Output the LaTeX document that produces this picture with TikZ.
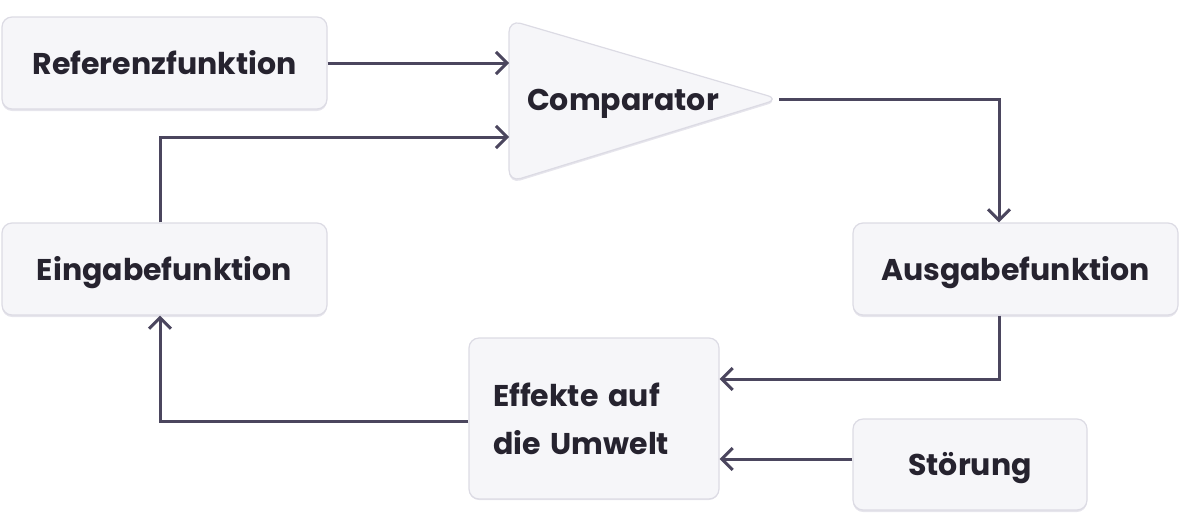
\documentclass[tikz,border=0pt]{standalone}
\usepackage{fontspec}
\setmainfont{Poppins}
\usetikzlibrary{arrows.meta}
\definecolor{boxfill}{HTML}{F6F6F9}
\definecolor{boxline}{HTML}{DCDBE4}
\definecolor{shadowc}{HTML}{E6E5EC}
\definecolor{linec}{HTML}{4B465E}
\definecolor{textc}{HTML}{26232F}
\tikzset{
  lbl/.style={text=textc, font=\fontsize{30}{48}\selectfont\bfseries},
  oneline/.style={text height=25pt, text depth=3pt},
  box/.style={lbl, draw=boxline, line width=1.2pt, fill=boxfill, rounded corners=10pt, inner sep=0pt},
  conn/.style={draw=linec, line width=3pt, -{Straight Barb[length=11pt,width=22pt,line width=3pt]}},
}
\begin{document}
\begin{tikzpicture}[x=1pt,y=-1pt]
\useasboundingbox (0,0) rectangle (1180,512);
% shadows
\foreach \a/\b/\c/\d in {2/17/327/109, 2/223/327/315, 853/223/1178/315, 469/337/719/498, 853/419/1087/510}{
  \fill[shadowc, rounded corners=10pt] (\a,\b+2) rectangle (\c,\d+2);
}
\node[box, oneline, minimum width=325pt, minimum height=92pt] (ref) at (164.5,63) {Referenzfunktion};
\node[box, oneline, minimum width=325pt, minimum height=92pt] (ein) at (164.5,269) {Eingabefunktion};
\node[box, oneline, minimum width=325pt, minimum height=92pt] (aus) at (1015.5,269) {Ausgabefunktion};
\node[box, minimum width=250pt, minimum height=161pt, align=left, text width=202pt] (eff) at (594,418.5) {Effekte auf\\die Umwelt};
\node[box, oneline, minimum width=234pt, minimum height=91pt] (stoe) at (970,464.5) {Störung};
% comparator
\fill[shadowc, rounded corners=12pt] (509,22) -- (779,101) -- (509,184) -- cycle;
\draw[draw=boxline, line width=1.2pt, fill=boxfill, rounded corners=12pt] (509,20) -- (779,99) -- (509,182) -- cycle;
\node[lbl, oneline] (comp) at (623,99) {Comparator};
\coordinate (compA) at (509,63);
\coordinate (compB) at (509,137);
\coordinate (compT) at (779,99);
% connectors
\draw[conn] (ref.east) -- (compA);
\draw[conn] (ein.north -| 160,0) -- (160,137) -- (compB);
\draw[conn] (compT) -- (999,99) -- (aus.north -| 999,0);
\draw[conn] (aus.south -| 999,0) -- (999,379) -- (eff.east |- 0,379);
\draw[conn] (stoe.west |- 0,459) -- (eff.east |- 0,459);
\draw[conn] (eff.west |- 0,421) -- (160,421) -- (ein.south -| 160,0);
\end{tikzpicture}
\end{document}
